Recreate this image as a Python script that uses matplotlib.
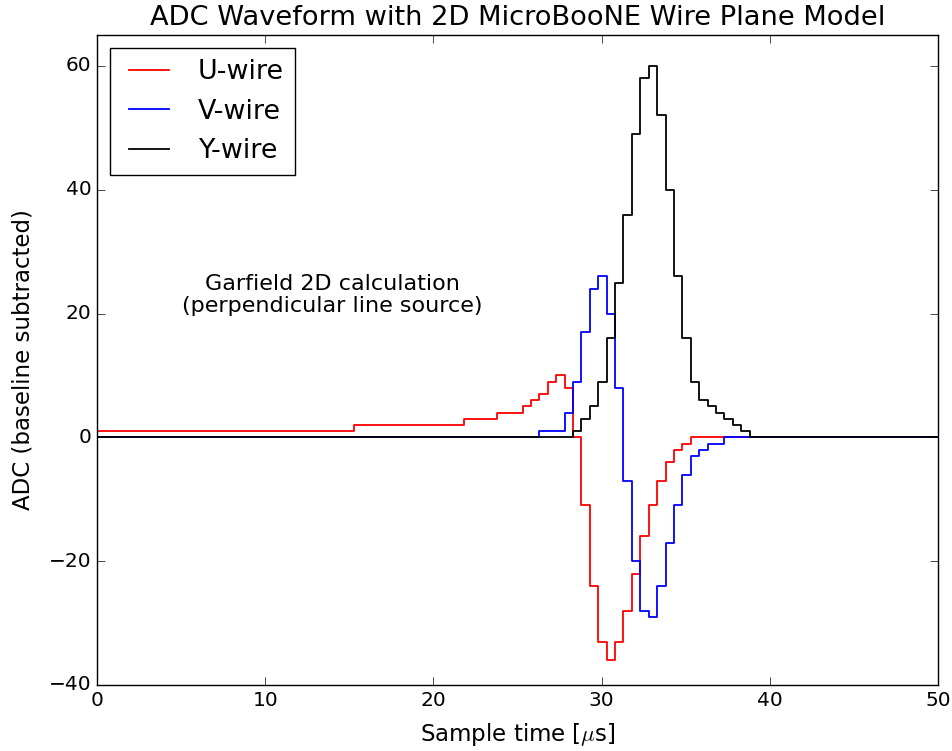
import matplotlib
matplotlib.use("Agg")
import matplotlib.pyplot as plt

# step edges [us] and ADC levels for each wire plane
u_edges = [0, 15.3, 21.8, 23.8, 25.3, 25.8, 26.3, 26.8, 27.3, 27.8,
           28.3, 28.8, 29.3, 29.8, 30.3, 30.8, 31.3, 31.8, 32.3, 32.8,
           33.3, 33.8, 34.3, 34.8, 35.3, 50]
u_adc = [1, 2, 3, 4, 5, 6, 7, 9, 10, 8,
         0, -11, -24, -33, -36, -33, -28, -22, -16, -11,
         -7, -4, -2, -1, 0]

v_edges = [0, 26.3, 27.8, 28.3, 28.8, 29.3, 29.8, 30.3, 30.8, 31.3,
           31.8, 32.3, 32.8, 33.3, 33.8, 34.3, 34.8, 35.3, 35.8, 36.3,
           37.3, 50]
v_adc = [0, 1, 4, 9, 17, 24, 26, 20, 8, -7,
         -20, -28, -29, -24, -17, -11, -6, -3, -2, -1, 0]

y_edges = [0, 28.3, 28.8, 29.3, 29.8, 30.3, 30.8, 31.3, 31.8, 32.3,
           32.8, 33.3, 33.8, 34.3, 34.8, 35.3, 35.8, 36.3, 36.8, 37.3,
           37.8, 38.3, 38.8, 50]
y_adc = [0, 1, 3, 5, 9, 16, 25, 36, 49, 58,
         60, 52, 40, 26, 16, 9, 6, 5, 4, 3, 2, 1, 0]

series = [("U-wire", "red", u_edges, u_adc),
          ("V-wire", "blue", v_edges, v_adc),
          ("Y-wire", "black", y_edges, y_adc)]

plt.style.use("classic")
plt.rcParams["font.family"] = ["DejaVu Sans"]

fig = plt.figure(figsize=(9.53, 7.51), dpi=100, facecolor="white")
ax = fig.add_axes([0.1018, 0.0879, 0.8825, 0.8655])

for label, color, edges, vals in series:
    ax.step(edges, list(vals) + [vals[-1]], where="post", color=color,
            linewidth=1.3, label=label)

ax.set_xlim(0, 50)
ax.set_ylim(-40, 65)
ax.set_xticks([0, 10, 20, 30, 40, 50])
ax.set_yticks([-40, -20, 0, 20, 40, 60])
ax.tick_params(labelsize=14.5, length=6, direction="in")
ax.set_xlabel(r"Sample time [$\mu$s]", fontsize=16.5, labelpad=8)
ax.set_ylabel("ADC (baseline subtracted)", fontsize=16.5, labelpad=10)
ax.set_title("ADC Waveform with 2D MicroBooNE Wire Plane Model", fontsize=19.6, y=1.005)

ax.text(14.0, 23.0, "Garfield 2D calculation\n(perpendicular line source)",
        ha="center", va="center", fontsize=16, linespacing=1.1)

ax.legend(loc="upper left", fontsize=19.4, frameon=True, fancybox=False,
          handlelength=2.07, handletextpad=0.78, borderaxespad=0.5)

fig.savefig("out.png", dpi=100, facecolor="white")
